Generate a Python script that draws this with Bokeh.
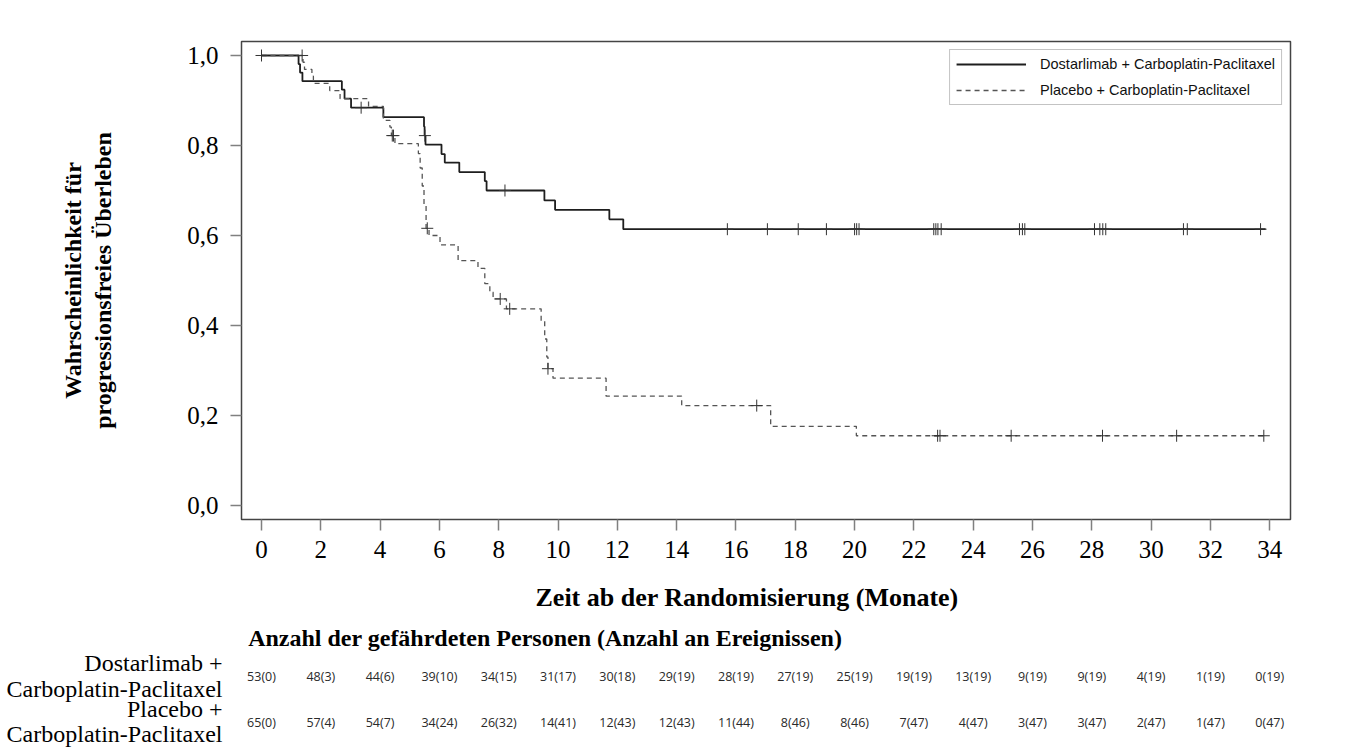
import numpy as np
from bokeh.plotting import figure
from bokeh.layouts import column
from bokeh.models import (Range1d, FixedTicker, ColumnDataSource, Legend, LegendItem)
from bokeh.embed import file_html
from bokeh.resources import INLINE
from bokeh.core.properties import value

# ---------------- data ----------------
dost_name = "Dostarlimab + Carboplatin-Paclitaxel"
plac_name = "Placebo + Carboplatin-Paclitaxel"

dost_t = [0, 1.25, 1.30, 1.38, 2.71, 2.80, 3.02, 4.11, 5.48, 5.50, 5.53, 6.07, 6.18,
          6.67, 7.53, 7.59, 9.54, 9.90, 11.73, 12.20, 33.86]
dost_s = [1.0, 0.981, 0.962, 0.943, 0.924, 0.904, 0.884, 0.863, 0.842, 0.822, 0.802,
          0.781, 0.762, 0.741, 0.721, 0.700, 0.678, 0.657, 0.636, 0.614, 0.614]
dost_cens = [0.0, 3.36, 5.51, 8.21, 15.71, 17.06, 18.10, 19.05, 20.00, 20.07, 20.15,
             22.67, 22.74, 22.81, 22.92, 25.56, 25.66, 25.74, 28.09, 28.27, 28.37,
             28.47, 31.09, 31.22, 33.69]

plac_t = [0, 1.40, 1.45, 1.70, 1.75, 2.30, 2.65, 3.61, 4.11, 4.33, 4.38, 4.50, 5.29,
          5.35, 5.42, 5.48, 5.55, 5.65, 6.02, 6.63, 7.30, 7.53, 7.70, 7.81, 8.26, 9.43,
          9.55, 9.62, 9.66, 9.83, 11.62, 14.17, 17.17, 20.06, 33.86]
plac_s = [1.0, 0.985, 0.969, 0.954, 0.938, 0.922, 0.904, 0.887, 0.856, 0.841, 0.822,
          0.804, 0.782, 0.750, 0.710, 0.670, 0.616, 0.600, 0.579, 0.544, 0.527, 0.493,
          0.474, 0.459, 0.437, 0.410, 0.370, 0.330, 0.304, 0.283, 0.243, 0.222, 0.176,
          0.155, 0.155]
plac_cens = [1.37, 4.41, 4.45, 5.59, 8.05, 8.37, 9.66, 16.70, 22.80, 22.88, 25.28,
             28.36, 30.86, 33.80]

x_ticks = [0, 2, 4, 6, 8, 10, 12, 14, 16, 18, 20, 22, 24, 26, 28, 30, 32, 34]
y_ticks = [0.0, 0.2, 0.4, 0.6, 0.8, 1.0]
y_tick_labels = ["0,0", "0,2", "0,4", "0,6", "0,8", "1,0"]

y_title = "Wahrscheinlichkeit für\nprogressionsfreies Überleben"
x_title = "Zeit ab der Randomisierung (Monate)"
risk_title = "Anzahl der gefährdeten Personen (Anzahl an Ereignissen)"
group_label_lines = ["Dostarlimab +", "Carboplatin-Paclitaxel",
                     "Placebo +", "Carboplatin-Paclitaxel"]

risk_times = x_ticks
dost_risk = ["53(0)", "48(3)", "44(6)", "39(10)", "34(15)", "31(17)", "30(18)", "29(19)",
             "28(19)", "27(19)", "25(19)", "19(19)", "13(19)", "9(19)", "9(19)", "4(19)",
             "1(19)", "0(19)"]
plac_risk = ["65(0)", "57(4)", "54(7)", "34(24)", "26(32)", "14(41)", "12(43)", "12(43)",
             "11(44)", "8(46)", "8(46)", "7(47)", "4(47)", "3(47)", "3(47)", "2(47)",
             "1(47)", "0(47)"]


def surv_at(times, steps_t, steps_s):
    idx = np.searchsorted(np.array(steps_t), np.array(times), side="right") - 1
    return list(np.array(steps_s)[idx])


SERIF = "Liberation Serif"
W = 1349
H_MAIN, H_TAB = 575, 174
FL, FR, FT, FB = 241, 1290, 41, 519          # frame edges of the KM plot (px)
xr = Range1d(-0.6745, 34.70)

# ---------------- KM figure ----------------
p = figure(width=W, height=H_MAIN, output_backend="svg", toolbar_location=None,
           x_range=xr, y_range=Range1d(-0.0311, 1.0311),
           min_border_left=FL, min_border_right=W - FR, min_border_top=FT,
           min_border_bottom=H_MAIN - FB)
p.background_fill_color = "white"
p.border_fill_color = "white"
p.outline_line_color = "#444444"
p.outline_line_width = 1.5
p.grid.grid_line_color = None

r_d = p.step(dost_t, dost_s, mode="after", line_color="#1e1e1e", line_width=1.8)
r_p = p.step(plac_t, plac_s, mode="after", line_color="#555555", line_width=1.3,
             line_dash="5 4")
p.scatter(dost_cens, surv_at(dost_cens, dost_t, dost_s), marker="cross", size=12,
          line_color="#333333", line_width=1)
p.scatter(plac_cens, surv_at(plac_cens, plac_t, plac_s), marker="cross", size=12,
          line_color="#333333", line_width=1)

p.xaxis.ticker = FixedTicker(ticks=x_ticks)
p.yaxis.ticker = FixedTicker(ticks=y_ticks)
p.yaxis.major_label_overrides = dict(zip(y_ticks, y_tick_labels))
p.axis.minor_tick_line_color = None
p.axis.major_tick_in = 0
p.axis.major_tick_out = 11
p.axis.major_tick_line_color = "#808080"
p.axis.major_tick_line_width = 1.5
p.axis.axis_line_color = None
p.axis.major_label_text_font = SERIF
p.axis.major_label_text_font_size = "25px"
p.axis.major_label_text_color = "black"
p.xaxis.major_label_standoff = 10
p.yaxis.major_label_standoff = 12

p.yaxis.axis_label = y_title
p.yaxis.axis_label_text_font = SERIF
p.yaxis.axis_label_text_font_style = "bold"
p.yaxis.axis_label_text_font_size = "24px"
p.yaxis.axis_label_text_color = "black"
p.yaxis.axis_label_text_line_height = 1.17
p.yaxis.axis_label_standoff = 68

legend = Legend(items=[LegendItem(label=dost_name, renderers=[r_d]),
                       LegendItem(label=plac_name, renderers=[r_p])],
                location="top_right")
legend.margin = 8
legend.padding = 6
legend.spacing = 10
legend.glyph_height = 16
legend.label_height = 16
legend.glyph_width = 70
legend.label_standoff = 14
legend.label_text_font = "Liberation Sans"
legend.label_text_font_size = "14.5px"
legend.label_text_color = "#111111"
legend.border_line_color = "#888888"
legend.border_line_width = 1
p.add_layout(legend)

# ---------------- risk table figure (same x scale, y in page px) ----------------
t = figure(width=W, height=H_TAB, output_backend="svg", toolbar_location=None,
           x_range=xr, y_range=Range1d(H_MAIN + H_TAB, H_MAIN),
           min_border_left=FL, min_border_right=W - FR, min_border_top=0,
           min_border_bottom=0, outline_line_color=None)
t.xaxis.visible = False
t.grid.grid_line_color = None
t.background_fill_color = "white"
t.border_fill_color = "white"

# group names as the left axis labels of the table
grp_y = [662, 688, 708, 733]
t.yaxis.ticker = FixedTicker(ticks=grp_y)
t.yaxis.major_label_overrides = dict(zip(grp_y, group_label_lines))
t.yaxis.axis_line_color = None
t.yaxis.major_tick_line_color = None
t.yaxis.minor_tick_line_color = None
t.yaxis.major_label_standoff = 13
t.yaxis.major_label_text_font = SERIF
t.yaxis.major_label_text_font_size = "24px"
t.yaxis.major_label_text_color = "black"

t.text(x=[9.24], y=[597], text=[x_title], text_font=value(SERIF),
       text_font_size=value("26px"), text_font_style="bold", text_align="left",
       text_baseline="middle", text_color="black")
t.text(x=[-0.45], y=[637], text=[risk_title], text_font=value(SERIF),
       text_font_size=value("24px"), text_font_style="bold", text_align="left",
       text_baseline="middle", text_color="black")

for row_vals, ypix in ((dost_risk, 676), (plac_risk, 722)):
    src = ColumnDataSource(dict(x=risk_times, y=[ypix] * len(risk_times), txt=row_vals))
    t.text(x="x", y="y", text="txt", source=src, text_font=value("Open Sans"),
           text_font_size=value("12.5px"), text_align="center", text_baseline="middle",
           text_color="#2a2a2a")

layout = column(p, t, spacing=0)
open("out.html", "w").write(file_html(layout, INLINE))
